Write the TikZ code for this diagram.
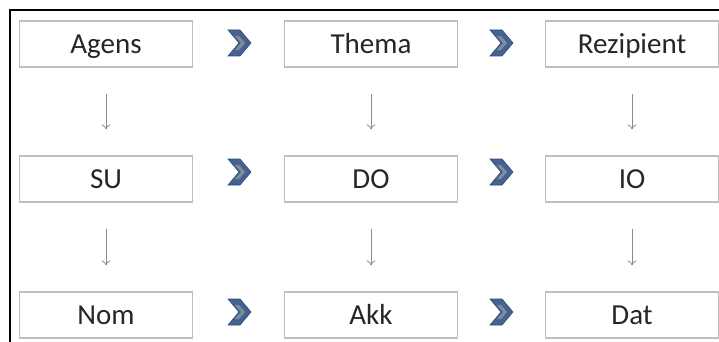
\documentclass[tikz,border=0pt]{standalone}
\usepackage{fontspec}
\setmainfont{Carlito}
\usetikzlibrary{arrows.meta}
\begin{document}
\begin{tikzpicture}[x=1pt,y=-1pt,
  rolebox/.style={draw=black!25,line width=1.2pt,fill=white,minimum width=173pt,minimum height=46pt,inner sep=0pt,text height=18.5pt,text depth=0pt,font=\fontsize{29}{32}\selectfont,text=black!85},
  downarr/.style={draw=black!45,line width=0.8pt,-{To[length=5pt,width=9pt]}},
  chev/.style={fill=chevblue,draw=chevdark,line width=0.6pt}]
\definecolor{chevblue}{HTML}{44638E}
\definecolor{chevdark}{HTML}{2A4A7C}
\definecolor{chevgray}{HTML}{808C9C}
\useasboundingbox (0,0) rectangle (719,342);
\draw[line width=2pt,black] (10,345) -- (10,10) -- (725,10);
% nodes
\node[rolebox] (agens) at (106,44) {Agens};
\node[rolebox] (thema) at (371,44) {Thema};
\node[rolebox] (rez) at (632,44) {Rezipient};
\node[rolebox] (su) at (106,179) {SU};
\node[rolebox] (do) at (371,179) {DO};
\node[rolebox] (io) at (632,179) {IO};
\node[rolebox] (nom) at (106,315) {Nom};
\node[rolebox] (akk) at (371,315) {Akk};
\node[rolebox] (dat) at (632,315) {Dat};
% down arrows
\foreach \a/\b in {agens/su,thema/do,rez/io,su/nom,do/akk,io/dat}{
  \draw[downarr] ([yshift=-26pt]\a.south) -- ([yshift=26pt]\b.north);
}
% chevrons
\foreach \cx/\cy in {239/43,501/43,239/172,501/172,239/312,501/312}{
  \begin{scope}[shift={(\cx,\cy)}]
    \path[chev] (-11,-13) -- (1,-13) -- (12,0) -- (1,13) -- (-11,13) -- (0,0) -- cycle;
    \path[fill=chevgray] (-4,-7) -- (0,-7) -- (6,0) -- (0,7) -- (-4,7) -- (2,0) -- cycle;
  \end{scope}
}
\end{tikzpicture}
\end{document}
